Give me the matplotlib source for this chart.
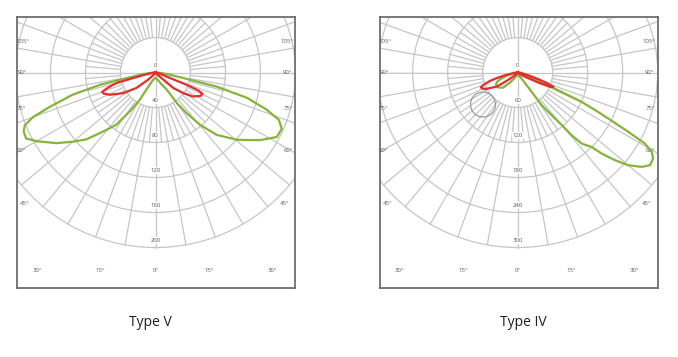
import numpy as np
import matplotlib
matplotlib.use("Agg")
import matplotlib.pyplot as plt
from matplotlib.patches import Circle

# ---------------- data ----------------
panel_titles = ["Type V", "Type IV"]
ring_steps = [40, 60]              # intensity units per ring
ring_count = 5

# Type V
v_green_c180_gamma = [0, 10, 20, 25, 28, 30, 33, 35.5, 37, 40.5, 43.5, 46, 50, 54.5, 60, 63, 66, 68, 70, 72, 75, 77.5, 79, 82, 85, 90]
v_green_c180_val = [6, 7, 10, 15, 22, 36, 51, 64, 75, 86, 98, 110, 123, 139, 157, 166, 165, 161, 149, 127, 98, 65, 34, 15, 6, 0]
v_green_c0_gamma = [0, 10, 20, 26, 30, 33.5, 35, 37.5, 40.5, 44.5, 50.5, 57, 62, 66, 69, 71.5, 74.5, 77, 78.7, 82, 85, 90]
v_green_c0_val = [6, 7, 10, 14, 18, 24, 43, 59, 79, 100, 121, 142, 157, 158, 151, 134, 109, 72, 33, 14, 6, 0]
v_red_c180_gamma = [0, 30, 40, 46, 51, 57.5, 64, 68, 70, 72, 74, 75, 76, 78, 80, 85, 90]
v_red_c180_val = [0, 1, 4, 12, 28, 44, 58, 64, 65, 58, 50, 45, 27, 14, 8, 3, 0]
v_red_c0_gamma = [0, 30, 42, 47.5, 49, 53.5, 57.5, 62.5, 65.5, 67.3, 68.5, 69.1, 72, 80, 90]
v_red_c0_val = [0, 1, 4, 12, 27, 40, 51, 58, 59, 53, 38, 18, 8, 3, 0]

# Type IV
iv_green_c180_gamma = [0, 20, 30, 37.5, 44, 52, 58, 62, 66, 69, 73, 78, 85, 90]
iv_green_c180_val = [4, 6, 12, 22, 36, 42, 43, 42, 38, 32, 20, 8, 3, 0]
iv_green_c0_gamma = [0, 20, 30, 34, 35.8, 36.3, 38.5, 40, 40.7, 42, 44.8, 46, 48, 50, 52.7, 55, 57.6, 59.4, 60.8, 61.8, 63, 64, 65.3, 66.5, 67.5, 70, 75, 80, 90]
iv_green_c0_val = [4, 6, 9, 18, 41, 70, 94, 118, 142, 164, 180, 200, 225, 247, 267, 277, 275, 267, 250, 215, 176, 150, 121, 70, 35, 14, 6, 3, 0]
iv_red_c180_gamma = [0, 40, 48, 53, 56, 63, 66, 68, 70, 73, 75, 77, 80, 85, 90]
iv_red_c180_val = [0, 2, 10, 24, 43, 63, 67, 68, 63, 50, 38, 25, 12, 4, 0]
iv_red_c0_gamma = [0, 50, 58, 61, 64, 66, 68, 70, 72, 75, 80, 85, 90]
iv_red_c0_val = [0, 3, 10, 18, 40, 60, 66, 55, 38, 20, 8, 3, 0]

angle_labels = ["105°", "90°", "75°", "60°", "45°", "30°", "15°", "0°"]

# ---------------- layout ----------------
W, H = 678, 357
GREEN = "#86b33a"
RED = "#e52b2b"
GRID = "#c6c6c6"
FRAME = "#6e6e6e"
TXT = "#5a5a5a"
RING_PX = 35.0

panels = [
    dict(L=16.5, R=295.0, T=17.3, B=287.7, cx=155.5, cy=72.5, title_x=150),
    dict(L=379.5, R=658.0, T=17.3, B=287.7, cx=517.7, cy=72.5, title_x=523),
]
# label offsets (px) from centre for the left side; mirrored for the right
label_offsets = [(-132.5, -30.8), (-133.5, 0.0), (-134.5, 35.8), (-134.5, 77.5),
                 (-130.5, 130.8), (-118.2, 198.2), (-54.8, 198.2), (0.5, 198.2)]

curves = [
    [(v_green_c180_gamma, v_green_c180_val, v_green_c0_gamma, v_green_c0_val, GREEN),
     (v_red_c180_gamma, v_red_c180_val, v_red_c0_gamma, v_red_c0_val, RED)],
    [(iv_green_c180_gamma, iv_green_c180_val, iv_green_c0_gamma, iv_green_c0_val, GREEN),
     (iv_red_c180_gamma, iv_red_c180_val, iv_red_c0_gamma, iv_red_c0_val, RED)],
]

fig = plt.figure(figsize=(W / 100, H / 100), dpi=100)
fig.patch.set_facecolor("white")

for pi, p in enumerate(panels):
    step = ring_steps[pi]
    k = RING_PX / step  # px per unit
    ax = fig.add_axes([p["L"] / W, 1 - p["B"] / H, (p["R"] - p["L"]) / W, (p["B"] - p["T"]) / H])
    ax.set_xlim((p["L"] - p["cx"]) / k, (p["R"] - p["cx"]) / k)
    ax.set_ylim(-(p["B"] - p["cy"]) / k, (p["cy"] - p["T"]) / k)
    ax.set_xticks([]); ax.set_yticks([])
    for s in ax.spines.values():
        s.set_color(FRAME); s.set_linewidth(1.3)

    rmax = ring_count * step
    # circles
    for i in range(1, ring_count + 1):
        ax.add_patch(Circle((0, 0), i * step, fill=False, ec=GRID, lw=0.9, zorder=1))
    # spokes every 10 deg
    for a in range(0, 360, 10):
        ar = np.radians(a)
        r0 = 0 if a % 90 == 0 else step
        r1 = rmax * 3 if a % 90 == 0 and a != 0 else rmax
        ax.plot([r0 * np.sin(ar), r1 * np.sin(ar)], [-r0 * np.cos(ar), -r1 * np.cos(ar)],
                color=GRID, lw=0.9, zorder=1)
    # extra spokes every 5 deg in the second ring
    for a in range(5, 360, 10):
        ar = np.radians(a)
        ax.plot([step * np.sin(ar), 2 * step * np.sin(ar)], [-step * np.cos(ar), -2 * step * np.cos(ar)],
                color=GRID, lw=0.9, zorder=1)

    # radial value labels
    for i in range(0, ring_count + 1):
        ax.text(0, -i * step + 7.0 / k, f"{i * step}", ha="center", va="center",
                fontsize=4.3, color=TXT, family="Open Sans", zorder=3,
                bbox=dict(boxstyle="square,pad=0.15", fc="white", ec="none"))
    # angle labels
    for lab, (dx, dy) in zip(angle_labels, label_offsets):
        ax.text(dx / k, -dy / k, lab, ha="center", va="center", fontsize=4.3,
                color=TXT, family="Open Sans", zorder=3)
        if lab != "0°":
            ax.text(-dx / k - 1.5 / k, -dy / k, lab, ha="center", va="center", fontsize=4.3,
                    color=TXT, family="Open Sans", zorder=3)

    if pi == 1:
        ax.add_patch(Circle(((483 - p["cx"]) / k, -(104.5 - p["cy"]) / k), 12.5 / k,
                            fill=False, ec="#9a9a9a", lw=0.9, zorder=2))

    # curves
    for g180, v180, g0, v0, col in curves[pi]:
        g180 = np.radians(np.array(g180, float)); v180 = np.array(v180, float)
        g0 = np.radians(np.array(g0, float)); v0 = np.array(v0, float)
        xr = v0 * np.sin(g0); yr = -v0 * np.cos(g0)
        xl = -v180 * np.sin(g180); yl = -v180 * np.cos(g180)
        x = np.concatenate([xr[::-1], xl])
        y = np.concatenate([yr[::-1], yl])
        ax.plot(x, y, color=col, lw=1.6, solid_joinstyle="round", zorder=4)

    fig.text(p["title_x"] / W, 1 - 322 / H, panel_titles[pi], ha="center", va="center",
             fontsize=10, family="Open Sans", color="#1e1e1e")

fig.savefig("out.png", dpi=100, facecolor="white")
